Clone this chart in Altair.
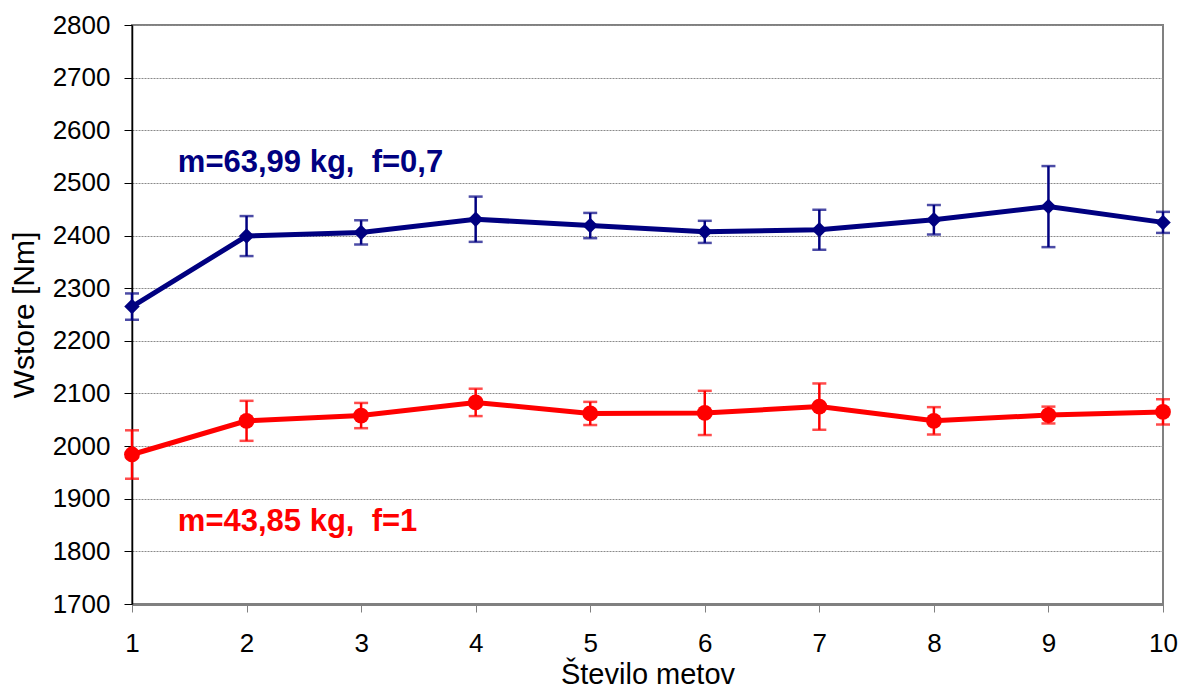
import altair as alt
import pandas as pd

# Throw counts 1..10
throws = [1, 2, 3, 4, 5, 6, 7, 8, 9, 10]

# Series A: m=63,99 kg, f=0,7 (mean and standard deviation)
heavy_mean = [2265, 2399, 2406, 2431, 2419, 2407, 2411, 2430, 2455, 2425]
heavy_err = [25, 38, 23, 43, 24, 21, 38, 28, 77, 20]

# Series B: m=43,85 kg, f=1
light_mean = [1984, 2048, 2058, 2083, 2062, 2063, 2075, 2048, 2059, 2065]
light_err = [46, 38, 24, 26, 22, 42, 44, 26, 16, 24]

NAVY = "#000080"
RED = "#FF0000"
FONT = "Liberation Sans"

def frame(mean, err):
    return pd.DataFrame({
        "n": throws,
        "w": mean,
        "lo": [m - e for m, e in zip(mean, err)],
        "hi": [m + e for m, e in zip(mean, err)],
    })

heavy = frame(heavy_mean, heavy_err)
light = frame(light_mean, light_err)

x_scale = alt.Scale(domain=[1, 10], nice=False, zero=False)
y_scale = alt.Scale(domain=[1700, 2800], nice=False, zero=False)

x_axis = alt.Axis(
    title="Število metov", values=throws, format="d", grid=False,
    labelFont=FONT, labelFontSize=26, labelColor="black", labelPadding=18,
    labelFlush=False, labelOverlap=False,
    titleFont=FONT, titleFontSize=29, titleFontWeight="normal", titleColor="black",
    titleY=79, titleBaseline="alphabetic",
    domainColor="#808080", domainWidth=3, tickColor="#808080", tickSize=8, tickWidth=1,
)
y_axis = alt.Axis(
    title="Wstore [Nm]", values=list(range(1700, 2801, 100)), format="d",
    labelFont=FONT, labelFontSize=26, labelColor="black", labelPadding=14,
    labelFlush=False, labelOverlap=False,
    titleFont=FONT, titleFontSize=30, titleFontWeight="normal", titleColor="black",
    titleX=-99, titleBaseline="alphabetic",
    domainColor="black", domainWidth=1.5, tickColor="black", tickSize=8, tickWidth=1,
    grid=True, gridColor="#8a8a8a", gridDash=[2, 1], gridWidth=1,
)

def series(df, color, shape, size):
    base = alt.Chart(df)
    bars = base.mark_rule(color=color, strokeWidth=2.5).encode(
        x=alt.X("n:Q", scale=x_scale, axis=x_axis),
        y=alt.Y("lo:Q", scale=y_scale, axis=y_axis),
        y2="hi:Q",
    )
    caps_hi = base.mark_tick(color=color, orient="horizontal", size=14, thickness=2.5).encode(
        x="n:Q", y="hi:Q")
    caps_lo = base.mark_tick(color=color, orient="horizontal", size=14, thickness=2.5).encode(
        x="n:Q", y="lo:Q")
    line = base.mark_line(color=color, strokeWidth=5).encode(x="n:Q", y="w:Q")
    pts = base.mark_point(color=color, filled=True, opacity=1, shape=shape, size=size).encode(
        x="n:Q", y="w:Q")
    return bars + caps_hi + caps_lo + line + pts

labels = pd.DataFrame({
    "n": [1.4, 1.4],
    "w": [2538, 1856],
    "txt": ["m=63,99 kg,\u00a0 f=0,7", "m=43,85 kg,\u00a0 f=1"],
    "c": [NAVY, RED],
})
notes = alt.Chart(labels).mark_text(
    font=FONT, fontSize=31, fontWeight="bold", align="left", baseline="middle"
).encode(x="n:Q", y="w:Q", text="txt:N", color=alt.Color("c:N", scale=None))

chart = alt.layer(
    series(heavy, NAVY, "diamond", 240),
    series(light, RED, "circle", 250),
    notes,
).properties(
    width=1031, height=579,
    autosize=alt.AutoSizeParams(type="none"),
    padding={"left": 132, "top": 25, "right": 18, "bottom": 84},
    background="white",
).configure_view(stroke="#808080", strokeWidth=2)

chart.save("out.html", embed_options={"renderer": "svg", "actions": False})
